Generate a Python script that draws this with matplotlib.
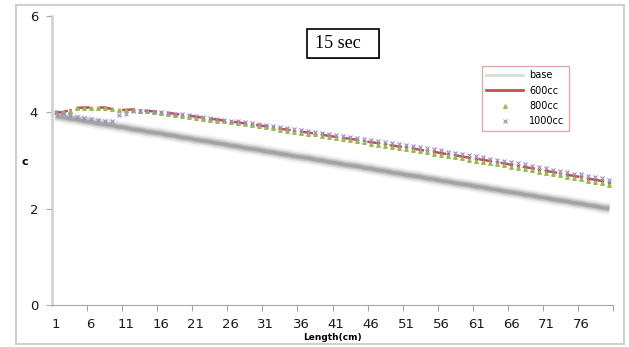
import matplotlib
matplotlib.use("Agg")
import matplotlib.pyplot as plt
from matplotlib.lines import Line2D
from matplotlib.patches import Rectangle

# categories along the length axis
length = list(range(1, 81))
tick_labels = [str(v) for v in range(1, 80, 5)]

base = [3.92, 3.90, 3.87, 3.85, 3.82, 3.80, 3.77, 3.75, 3.73, 3.70,
        3.68, 3.65, 3.63, 3.60, 3.58, 3.56, 3.53, 3.51, 3.48, 3.46,
        3.43, 3.41, 3.39, 3.36, 3.34, 3.31, 3.29, 3.26, 3.24, 3.22,
        3.19, 3.17, 3.14, 3.12, 3.09, 3.07, 3.05, 3.02, 3.00, 2.97,
        2.95, 2.92, 2.90, 2.88, 2.85, 2.83, 2.80, 2.78, 2.75, 2.73,
        2.70, 2.68, 2.66, 2.63, 2.61, 2.58, 2.56, 2.53, 2.51, 2.49,
        2.46, 2.44, 2.41, 2.39, 2.36, 2.34, 2.32, 2.29, 2.27, 2.24,
        2.22, 2.19, 2.17, 2.15, 2.12, 2.10, 2.07, 2.05, 2.02, 2.00]

cc600 = [4.00, 4.00, 4.05, 4.09, 4.10, 4.10, 4.10, 4.10, 4.07, 4.05,
         4.05, 4.06, 4.05, 4.03, 4.02, 4.00, 3.99, 3.97, 3.95, 3.93,
         3.91, 3.89, 3.87, 3.85, 3.83, 3.81, 3.79, 3.77, 3.75, 3.73,
         3.71, 3.69, 3.66, 3.64, 3.62, 3.60, 3.58, 3.56, 3.54, 3.51,
         3.49, 3.47, 3.45, 3.43, 3.40, 3.38, 3.36, 3.34, 3.31, 3.29,
         3.27, 3.25, 3.22, 3.20, 3.18, 3.15, 3.13, 3.11, 3.08, 3.06,
         3.04, 3.01, 2.99, 2.96, 2.94, 2.91, 2.89, 2.86, 2.84, 2.81,
         2.78, 2.76, 2.73, 2.70, 2.68, 2.65, 2.62, 2.60, 2.57, 2.54]

cc800 = [4.00, 4.00, 4.03, 4.08, 4.09, 4.09, 4.09, 4.09, 4.06, 4.05,
         4.05, 4.04, 4.03, 4.02, 4.00, 3.99, 3.97, 3.95, 3.93, 3.91,
         3.89, 3.87, 3.85, 3.83, 3.81, 3.79, 3.77, 3.75, 3.73, 3.71,
         3.69, 3.67, 3.64, 3.62, 3.60, 3.58, 3.56, 3.54, 3.51, 3.49,
         3.47, 3.45, 3.42, 3.40, 3.38, 3.35, 3.33, 3.31, 3.28, 3.26,
         3.24, 3.21, 3.19, 3.17, 3.14, 3.12, 3.10, 3.07, 3.05, 3.02,
         3.00, 2.97, 2.95, 2.92, 2.90, 2.87, 2.85, 2.82, 2.80, 2.77,
         2.74, 2.72, 2.69, 2.66, 2.64, 2.61, 2.58, 2.56, 2.53, 2.50]

cc1000 = [4.00, 3.99, 3.94, 3.91, 3.89, 3.87, 3.85, 3.82, 3.81, 3.95,
          3.97, 4.02, 4.03, 4.02, 4.01, 4.00, 3.99, 3.97, 3.96, 3.94,
          3.92, 3.90, 3.89, 3.87, 3.85, 3.83, 3.81, 3.79, 3.77, 3.75,
          3.73, 3.71, 3.69, 3.67, 3.65, 3.63, 3.61, 3.59, 3.57, 3.55,
          3.53, 3.51, 3.49, 3.47, 3.45, 3.42, 3.40, 3.38, 3.36, 3.34,
          3.32, 3.30, 3.27, 3.25, 3.23, 3.21, 3.18, 3.16, 3.14, 3.11,
          3.09, 3.07, 3.04, 3.02, 2.99, 2.97, 2.94, 2.92, 2.89, 2.87,
          2.84, 2.81, 2.79, 2.76, 2.73, 2.71, 2.68, 2.65, 2.63, 2.60]

RED = '#C0504D'
GREEN = '#9BBB59'
PURPLE = '#9C87C0'

fig = plt.figure(figsize=(6.29, 3.47), dpi=100)
ax = fig.add_axes([52/629, 1-305/347, 561/629, 289/347])

# base series: blurred grey band (shadowed line)
for lw, a in [(9, 0.07), (6.5, 0.13), (4.5, 0.22), (2.5, 0.32)]:
    ax.plot(length, base, color='#606060', lw=lw, alpha=a,
            solid_capstyle='butt', zorder=1)

ax.plot(length, cc600, color=RED, lw=1.8, linestyle=(0, (5, 4)), zorder=3)
ax.plot(length, cc600, color=RED, lw=0, marker='o', ms=1.3, zorder=3)
ax.plot(length, cc800, color=GREEN, lw=0, marker='^', ms=2.6, zorder=4)
ax.plot(length, cc1000, color=PURPLE, lw=0, marker='x', ms=3.3, mew=0.8, zorder=4)

ax.set_xlim(0.5, 80.5)
ax.set_ylim(0, 6)
ax.set_yticks([0, 2, 4, 6])
ax.set_xticks(range(1, 80, 5))
ax.set_xticklabels(tick_labels)
ax.set_xticks([x + 0.5 for x in range(5, 81, 5)], minor=True)
ax.tick_params(axis='x', which='major', length=0, pad=9, labelsize=9.5,
               labelcolor='#1a1a1a')
ax.tick_params(axis='x', which='minor', length=4, color='#a6a6a6', width=0.8)
ax.tick_params(axis='y', length=4, color='#a6a6a6', width=0.8, pad=6,
               labelsize=9.5, labelcolor='#1a1a1a')

for s in ['top', 'right']:
    ax.spines[s].set_visible(False)
ax.spines['left'].set_color('#cfcfcf')
ax.spines['left'].set_linewidth(1.8)
ax.spines['bottom'].set_color('#a6a6a6')
ax.spines['bottom'].set_linewidth(0.8)

fig.text(25/629, 1-162/347, 'c', ha='center', va='center',
         fontsize=8, fontweight='bold')
fig.text(332/629, 1-337/347, 'Length(cm)', ha='center', va='center',
         fontsize=6.5, fontweight='bold')

# title box
fig.patches.append(Rectangle((308/629, 1-59/347), 72/629, 29/347,
                             transform=fig.transFigure, fc='#7f7f7f',
                             ec='none', zorder=5))
fig.patches.append(Rectangle((307/629, 1-58/347), 72/629, 29/347,
                             transform=fig.transFigure, fc='white',
                             ec='black', lw=1.2, zorder=6))
fig.text(315/629, 1-43/347, '15 sec', ha='left', va='center',
         fontsize=13, family='Liberation Serif', zorder=7)

handles = [
    Line2D([], [], color='#d9d9d9', lw=2),
    Line2D([], [], color=RED, lw=2),
    Line2D([], [], color=GREEN, lw=0, marker='^', ms=2.6),
    Line2D([], [], color=PURPLE, lw=0, marker='x', ms=3.3, mew=0.8),
]
leg = fig.legend(handles, ['base', '600cc', '800cc', '1000cc'],
                 loc='upper left', bbox_to_anchor=(482/629, 1-66/347),
                 borderaxespad=0, fontsize=7, frameon=True, fancybox=False,
                 handlelength=3.8, handletextpad=0.6, labelspacing=0.55,
                 borderpad=0.45)
leg.get_frame().set_edgecolor('#D99694')
leg.get_frame().set_linewidth(1)

# outer chart border
fig.patches.append(Rectangle((16/629, 1-344/347), 608/629, 339/347,
                             transform=fig.transFigure, fill=False,
                             ec='#d0d0d0', lw=1.5))

fig.savefig('out.png', dpi=100)
